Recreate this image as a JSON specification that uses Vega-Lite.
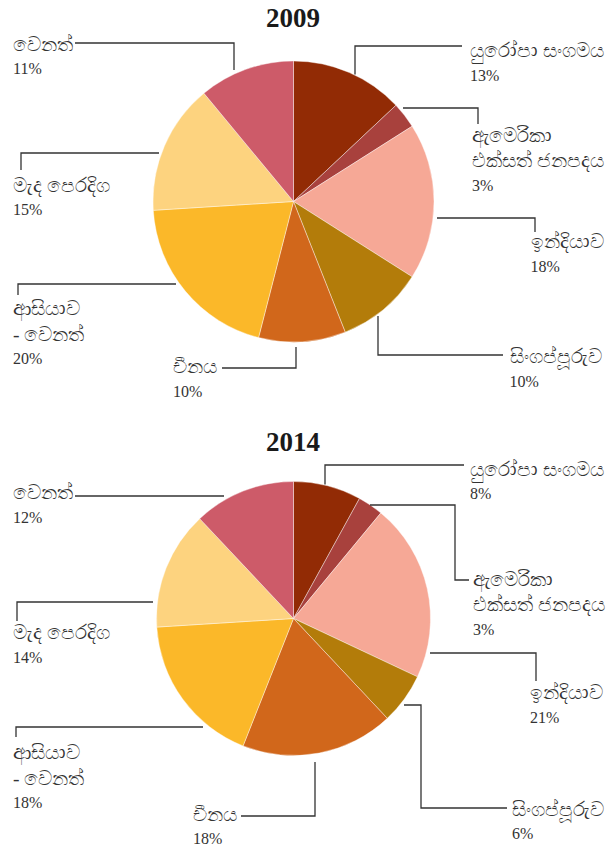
{
  "$schema": "https://vega.github.io/schema/vega-lite/v6.json",
  "padding": {"top": 4, "left": 0, "right": 0, "bottom": 0},
  "spacing": 9,
  "background": "white",
  "config": {"view": {"stroke": null}, "font": "Liberation Serif"},
  "datasets": {
    "s2009": [
      {"rank": 1, "country": "යුරෝපා සංගමය", "share": 13},
      {"rank": 2, "country": "ඇමෙරිකා එක්සත් ජනපදය", "share": 3},
      {"rank": 3, "country": "ඉන්දියාව", "share": 18},
      {"rank": 4, "country": "සිංගප්පූරුව", "share": 10},
      {"rank": 5, "country": "චීනය", "share": 10},
      {"rank": 6, "country": "ආසියාව - වෙනත්", "share": 20},
      {"rank": 7, "country": "මැද පෙරදිග", "share": 15},
      {"rank": 8, "country": "වෙනත්", "share": 11}
    ],
    "s2014": [
      {"rank": 1, "country": "යුරෝපා සංගමය", "share": 8},
      {"rank": 2, "country": "ඇමෙරිකා එක්සත් ජනපදය", "share": 3},
      {"rank": 3, "country": "ඉන්දියාව", "share": 21},
      {"rank": 4, "country": "සිංගප්පූරුව", "share": 6},
      {"rank": 5, "country": "චීනය", "share": 18},
      {"rank": 6, "country": "ආසියාව - වෙනත්", "share": 18},
      {"rank": 7, "country": "මැද පෙරදිග", "share": 14},
      {"rank": 8, "country": "වෙනත්", "share": 12}
    ],
    "lab2009": [
      {"country": "යුරෝපා සංගමය", "name": "යුරෝපා සංගමය", "x": 176.5, "y": -144.5},
      {"country": "ඇමෙරිකා එක්සත් ජනපදය", "name": "ඇමෙරිකා\nඑක්සත් ජනපදය", "x": 178.5, "y": -60},
      {"country": "ඉන්දියාව", "name": "ඉන්දියාව", "x": 237, "y": 46.5},
      {"country": "සිංගප්පූරුව", "name": "සිංගප්පූරුව", "x": 216, "y": 161.5},
      {"country": "චීනය", "name": "චීනය", "x": -120.5, "y": 171.5},
      {"country": "ආසියාව - වෙනත්", "name": "ආසියාව\n- වෙනත්", "x": -280.5, "y": 113.5},
      {"country": "මැද පෙරදිග", "name": "මැද පෙරදිග", "x": -280.5, "y": -10},
      {"country": "වෙනත්", "name": "වෙනත්", "x": -280.5, "y": -151}
    ],
    "lab2014": [
      {"country": "යුරෝපා සංගමය", "name": "යුරෝපා සංගමය", "x": 176.5, "y": -143},
      {"country": "ඇමෙරිකා එක්සත් ජනපදය", "name": "ඇමෙරිකා\nඑක්සත් ජනපදය", "x": 179.5, "y": -33},
      {"country": "ඉන්දියාව", "name": "ඉන්දියාව", "x": 236.5, "y": 80.5},
      {"country": "සිංගප්පූරුව", "name": "සිංගප්පූරුව", "x": 218.5, "y": 197},
      {"country": "චීනය", "name": "චීනය", "x": -100.5, "y": 202},
      {"country": "ආසියාව - වෙනත්", "name": "ආසියාව\n- වෙනත්", "x": -280.5, "y": 140.5},
      {"country": "මැද පෙරදිග", "name": "මැද පෙරදිග", "x": -280.5, "y": 20.5},
      {"country": "වෙනත්", "name": "වෙනත්", "x": -280.5, "y": -119.5}
    ],
    "lead2009": [
      {"country": "EU", "pt": 1, "x": 61.5, "y": -127},
      {"country": "EU", "pt": 2, "x": 61.5, "y": -155.5},
      {"country": "EU", "pt": 3, "x": 168.5, "y": -155.5},
      {"country": "US", "pt": 1, "x": 109.5, "y": -93.5},
      {"country": "US", "pt": 2, "x": 184.5, "y": -93.5},
      {"country": "US", "pt": 3, "x": 184.5, "y": -77.5},
      {"country": "IN", "pt": 1, "x": 143.5, "y": 16.5},
      {"country": "IN", "pt": 2, "x": 241.5, "y": 16.5},
      {"country": "IN", "pt": 3, "x": 241.5, "y": 30.5},
      {"country": "SG", "pt": 1, "x": 84.5, "y": 114.5},
      {"country": "SG", "pt": 2, "x": 84.5, "y": 153.5},
      {"country": "SG", "pt": 3, "x": 209.5, "y": 153.5},
      {"country": "CN", "pt": 1, "x": -71.5, "y": 166.5},
      {"country": "CN", "pt": 2, "x": 2.5, "y": 166.5},
      {"country": "CN", "pt": 3, "x": 2.5, "y": 145.5},
      {"country": "AS", "pt": 1, "x": -117.5, "y": 82.5},
      {"country": "AS", "pt": 2, "x": -275.5, "y": 82.5},
      {"country": "AS", "pt": 3, "x": -275.5, "y": 93.5},
      {"country": "ME", "pt": 1, "x": -134.5, "y": -48.5},
      {"country": "ME", "pt": 2, "x": -272.5, "y": -48.5},
      {"country": "ME", "pt": 3, "x": -272.5, "y": -31.5},
      {"country": "OT", "pt": 1, "x": -218.5, "y": -158.5},
      {"country": "OT", "pt": 2, "x": -59.5, "y": -158.5},
      {"country": "OT", "pt": 3, "x": -59.5, "y": -131.5}
    ],
    "lead2014": [
      {"country": "EU", "pt": 1, "x": 31.5, "y": -134},
      {"country": "EU", "pt": 2, "x": 31.5, "y": -153.5},
      {"country": "EU", "pt": 3, "x": 170.5, "y": -153.5},
      {"country": "US", "pt": 1, "x": 76.5, "y": -113.5},
      {"country": "US", "pt": 2, "x": 161.5, "y": -113.5},
      {"country": "US", "pt": 3, "x": 161.5, "y": -38.5},
      {"country": "US", "pt": 4, "x": 175.5, "y": -38.5},
      {"country": "IN", "pt": 1, "x": 136.5, "y": 34.5},
      {"country": "IN", "pt": 2, "x": 242.5, "y": 34.5},
      {"country": "IN", "pt": 3, "x": 242.5, "y": 62.5},
      {"country": "SG", "pt": 1, "x": 110.5, "y": 86.5},
      {"country": "SG", "pt": 2, "x": 127.5, "y": 86.5},
      {"country": "SG", "pt": 3, "x": 127.5, "y": 189.5},
      {"country": "SG", "pt": 4, "x": 213.5, "y": 189.5},
      {"country": "CN", "pt": 1, "x": -52.5, "y": 197.5},
      {"country": "CN", "pt": 2, "x": 21.5, "y": 197.5},
      {"country": "CN", "pt": 3, "x": 21.5, "y": 143.5},
      {"country": "AS", "pt": 1, "x": -90.5, "y": 108.5},
      {"country": "AS", "pt": 2, "x": -277.5, "y": 108.5},
      {"country": "AS", "pt": 3, "x": -277.5, "y": 118.5},
      {"country": "ME", "pt": 1, "x": -140.5, "y": -16.5},
      {"country": "ME", "pt": 2, "x": -276.5, "y": -16.5},
      {"country": "ME", "pt": 3, "x": -276.5, "y": 2.5},
      {"country": "OT", "pt": 1, "x": -218.5, "y": -122.5},
      {"country": "OT", "pt": 2, "x": -69.5, "y": -122.5}
    ]
  },
  "vconcat": [
    {
      "title": {"text": "2009", "fontSize": 27, "fontWeight": "bold", "font": "Liberation Serif", "color": "#1a1a1a", "anchor": "middle", "dx": -14, "offset": 2},
      "width": 614,
      "height": 385,
      "encoding": {
        "x": {"type": "quantitative", "scale": {"domain": [-293.5, 320.5], "nice": false, "zero": false}, "axis": null},
        "y": {"type": "quantitative", "scale": {"domain": [-166.5, 218.5], "nice": false, "zero": false, "reverse": true}, "axis": null}
      },
      "layer": [
        {
          "data": {"name": "s2009"},
          "mark": {"type": "arc", "outerRadius": 140.5, "stroke": "#ffffff", "strokeWidth": 0.4},
          "encoding": {
            "x": {"datum": 0}, "y": {"datum": 0},
            "theta": {"field": "share", "type": "quantitative", "stack": true},
            "order": {"field": "rank", "type": "quantitative"},
            "color": {"field": "country", "type": "nominal", "legend": null,
              "scale": {"domain": ["යුරෝපා සංගමය", "ඇමෙරිකා එක්සත් ජනපදය", "ඉන්දියාව", "සිංගප්පූරුව", "චීනය", "ආසියාව - වෙනත්", "මැද පෙරදිග", "වෙනත්"],
                        "range": ["#922B05", "#A8413D", "#F6A896", "#B37C0A", "#D1671B", "#FBB829", "#FDD37F", "#CD5B69"]}}
          }
        },
        {
          "data": {"name": "lead2009"},
          "mark": {"type": "line", "color": "#333333", "strokeWidth": 1.3, "interpolate": "linear"},
          "encoding": {
            "x": {"field": "x", "type": "quantitative"},
            "y": {"field": "y", "type": "quantitative"},
            "detail": {"field": "country"},
            "order": {"field": "pt", "type": "quantitative"}
          }
        },
        {
          "data": {"name": "lab2009"},
          "mark": {"type": "text", "align": "left", "baseline": "alphabetic", "fontSize": 19.5, "lineHeight": 25.5, "lineBreak": "\n", "color": "#333333", "font": "Liberation Serif"},
          "encoding": {
            "x": {"field": "x", "type": "quantitative"},
            "y": {"field": "y", "type": "quantitative"},
            "text": {"field": "name"}
          }
        },
        {
          "data": {"name": "lab2009"},
          "transform": [
            {"lookup": "country", "from": {"data": {"name": "s2009"}, "key": "country", "fields": ["share"]}},
            {"calculate": "datum.share + '%'", "as": "pct"},
            {"calculate": "datum.y + 23.5 + 25.5 * (length(split(datum.name, '\\n')) - 1)", "as": "py"}
          ],
          "mark": {"type": "text", "align": "left", "baseline": "alphabetic", "fontSize": 16, "color": "#333333", "font": "Liberation Serif"},
          "encoding": {
            "x": {"field": "x", "type": "quantitative"},
            "y": {"field": "py", "type": "quantitative"},
            "text": {"field": "pct"}
          }
        }
      ]
    },
    {
      "title": {"text": "2014", "fontSize": 27, "fontWeight": "bold", "font": "Liberation Serif", "color": "#1a1a1a", "anchor": "middle", "dx": -14, "offset": 2},
      "width": 614,
      "height": 385,
      "encoding": {
        "x": {"type": "quantitative", "scale": {"domain": [-293.5, 320.5], "nice": false, "zero": false}, "axis": null},
        "y": {"type": "quantitative", "scale": {"domain": [-159.5, 225.5], "nice": false, "zero": false, "reverse": true}, "axis": null}
      },
      "layer": [
        {
          "data": {"name": "s2014"},
          "mark": {"type": "arc", "outerRadius": 137, "stroke": "#ffffff", "strokeWidth": 0.4},
          "encoding": {
            "x": {"datum": 0}, "y": {"datum": 0},
            "theta": {"field": "share", "type": "quantitative", "stack": true},
            "order": {"field": "rank", "type": "quantitative"},
            "color": {"field": "country", "type": "nominal", "legend": null,
              "scale": {"domain": ["යුරෝපා සංගමය", "ඇමෙරිකා එක්සත් ජනපදය", "ඉන්දියාව", "සිංගප්පූරුව", "චීනය", "ආසියාව - වෙනත්", "මැද පෙරදිග", "වෙනත්"],
                        "range": ["#922B05", "#A8413D", "#F6A896", "#B37C0A", "#D1671B", "#FBB829", "#FDD37F", "#CD5B69"]}}
          }
        },
        {
          "data": {"name": "lead2014"},
          "mark": {"type": "line", "color": "#333333", "strokeWidth": 1.3, "interpolate": "linear"},
          "encoding": {
            "x": {"field": "x", "type": "quantitative"},
            "y": {"field": "y", "type": "quantitative"},
            "detail": {"field": "country"},
            "order": {"field": "pt", "type": "quantitative"}
          }
        },
        {
          "data": {"name": "lab2014"},
          "mark": {"type": "text", "align": "left", "baseline": "alphabetic", "fontSize": 19.5, "lineHeight": 25.5, "lineBreak": "\n", "color": "#333333", "font": "Liberation Serif"},
          "encoding": {
            "x": {"field": "x", "type": "quantitative"},
            "y": {"field": "y", "type": "quantitative"},
            "text": {"field": "name"}
          }
        },
        {
          "data": {"name": "lab2014"},
          "transform": [
            {"lookup": "country", "from": {"data": {"name": "s2014"}, "key": "country", "fields": ["share"]}},
            {"calculate": "datum.share + '%'", "as": "pct"},
            {"calculate": "datum.y + 23.5 + 25.5 * (length(split(datum.name, '\\n')) - 1)", "as": "py"}
          ],
          "mark": {"type": "text", "align": "left", "baseline": "alphabetic", "fontSize": 16, "color": "#333333", "font": "Liberation Serif"},
          "encoding": {
            "x": {"field": "x", "type": "quantitative"},
            "y": {"field": "py", "type": "quantitative"},
            "text": {"field": "pct"}
          }
        }
      ]
    }
  ]
}
